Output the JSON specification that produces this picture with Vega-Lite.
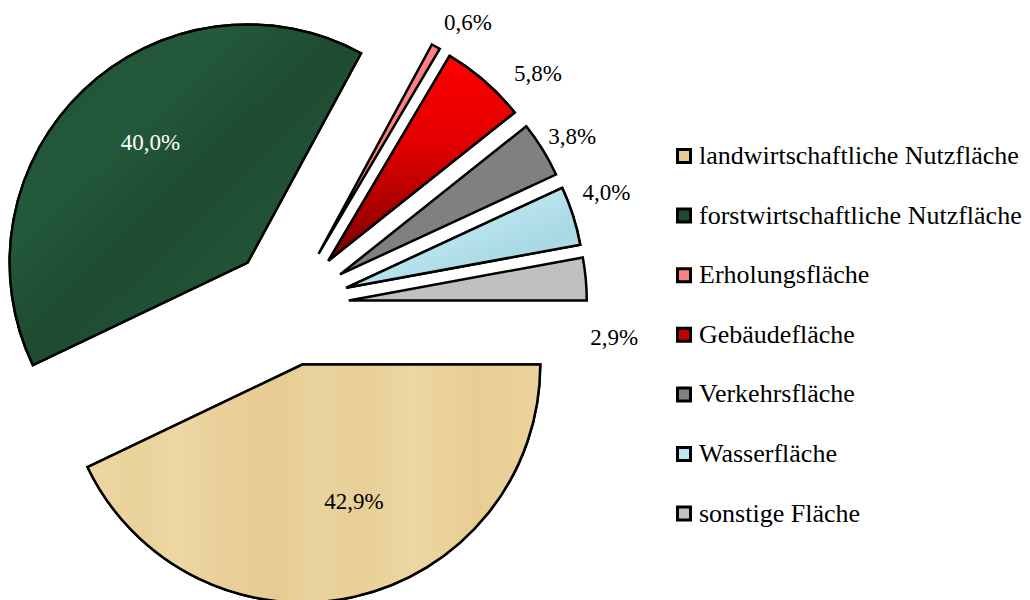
{
  "$schema": "https://vega.github.io/schema/vega-lite/v6.json",
  "width": 578,
  "height": 588,
  "autosize": {"type": "none"},
  "padding": {"left": 0, "top": 12, "right": 452, "bottom": 0},
  "background": "white",
  "config": {"view": {"stroke": null}, "font": "Liberation Serif"},
  "data": {
    "values": [
      {"name": "landwirtschaftliche Nutzfläche", "value": 42.9, "label": "42,9%", "ord": 1},
      {"name": "forstwirtschaftliche Nutzfläche", "value": 40.0, "label": "40,0%", "ord": 2},
      {"name": "Erholungsfläche", "value": 0.6, "label": "0,6%", "ord": 3},
      {"name": "Gebäudefläche", "value": 5.8, "label": "5,8%", "ord": 4},
      {"name": "Verkehrsfläche", "value": 3.8, "label": "3,8%", "ord": 5},
      {"name": "Wasserfläche", "value": 4.0, "label": "4,0%", "ord": 6},
      {"name": "sonstige Fläche", "value": 2.9, "label": "2,9%", "ord": 7}
    ]
  },
  "transform": [
    {"stack": "value", "groupby": [], "sort": [{"field": "ord", "order": "ascending"}], "as": ["v0", "v1"]},
    {"calculate": "(datum.v0 + datum.v1) / 2", "as": "mid"}
  ],
  "layer": [
    {
      "mark": {
        "type": "arc", "radius": 238, "stroke": "black", "strokeWidth": 2.5, "strokeJoin": "miter",
        "xOffset": {"expr": "60*cos(PI*(datum.v0+datum.v1)/100)"},
        "yOffset": {"expr": "60*sin(PI*(datum.v0+datum.v1)/100)"}
      },
      "encoding": {
        "theta": {"field": "v0", "type": "quantitative", "stack": null, "scale": {"domain": [0, 100], "range": [1.5707963, 7.8539816]}},
        "theta2": {"field": "v1"},
        "color": {
          "field": "name", "type": "nominal",
          "sort": ["landwirtschaftliche Nutzfläche", "forstwirtschaftliche Nutzfläche", "Erholungsfläche", "Gebäudefläche", "Verkehrsfläche", "Wasserfläche", "sonstige Fläche"],
          "scale": {
            "domain": ["landwirtschaftliche Nutzfläche", "forstwirtschaftliche Nutzfläche", "Erholungsfläche", "Gebäudefläche", "Verkehrsfläche", "Wasserfläche", "sonstige Fläche"],
            "range": ["#e6cc92", "#1f4a31", "#ff8080", "#c00000", "#808080", "#bfe7f0", "#c0c0c0"]
          },
          "legend": {
            "orient": "none", "legendX": 671, "legendY": 131, "title": null, "padding": 0,
            "labelFont": "Liberation Serif", "labelFontSize": 26, "labelColor": "black", "labelLimit": 400, "labelOffset": 2,
            "symbolType": "square", "symbolSize": 169, "symbolStrokeColor": "black", "symbolStrokeWidth": 3, "symbolOpacity": 1,
            "rowPadding": 33.6
          }
        }
      }
    },
    {
      "transform": [{"filter": "datum.name == 'Gebäudefläche'"}],
      "mark": {
        "type": "arc", "radius": 238, "stroke": "black", "strokeWidth": 2.5, "strokeJoin": "miter",
        "fill": {"gradient": "linear", "x1": 0, "y1": 0, "x2": 0, "y2": 1, "stops": [{"offset": 0, "color": "#ff0000"}, {"offset": 0.45, "color": "#e00000"}, {"offset": 1, "color": "#7a0000"}]},
        "xOffset": {"expr": "60*cos(PI*(datum.v0+datum.v1)/100)"},
        "yOffset": {"expr": "60*sin(PI*(datum.v0+datum.v1)/100)"}
      },
      "encoding": {
        "theta": {"field": "v0", "type": "quantitative", "stack": null},
        "theta2": {"field": "v1"}
      }
    },
    {
      "transform": [{"filter": "datum.name == 'landwirtschaftliche Nutzfläche'"}],
      "mark": {
        "type": "arc", "radius": 238, "stroke": "black", "strokeWidth": 2.5, "strokeJoin": "miter",
        "fill": {"gradient": "linear", "x1": 0, "y1": 0, "x2": 1, "y2": 0, "stops": [
          {"offset": 0, "color": "#ecd6a2"}, {"offset": 0.12, "color": "#e9d19a"}, {"offset": 0.2, "color": "#edd7a4"},
          {"offset": 0.3, "color": "#e9d09a"}, {"offset": 0.42, "color": "#e6cc92"}, {"offset": 0.5, "color": "#ebd39e"},
          {"offset": 0.6, "color": "#e8cf97"}, {"offset": 0.72, "color": "#edd6a2"}, {"offset": 0.85, "color": "#e8ce95"},
          {"offset": 1, "color": "#ebd39c"}]},
        "xOffset": {"expr": "60*cos(PI*(datum.v0+datum.v1)/100)"},
        "yOffset": {"expr": "60*sin(PI*(datum.v0+datum.v1)/100)"}
      },
      "encoding": {
        "theta": {"field": "v0", "type": "quantitative", "stack": null},
        "theta2": {"field": "v1"}
      }
    },
    {
      "transform": [{"filter": "datum.name == 'forstwirtschaftliche Nutzfläche'"}],
      "mark": {
        "type": "arc", "radius": 238, "stroke": "black", "strokeWidth": 2.5, "strokeJoin": "miter",
        "fill": {"gradient": "linear", "x1": 0, "y1": 0, "x2": 1, "y2": 1, "stops": [
          {"offset": 0, "color": "#1f4d33"}, {"offset": 0.3, "color": "#245a3c"}, {"offset": 0.5, "color": "#1d4b31"},
          {"offset": 0.75, "color": "#235639"}, {"offset": 1, "color": "#1c4a30"}]},
        "xOffset": {"expr": "60*cos(PI*(datum.v0+datum.v1)/100)"},
        "yOffset": {"expr": "60*sin(PI*(datum.v0+datum.v1)/100)"}
      },
      "encoding": {
        "theta": {"field": "v0", "type": "quantitative", "stack": null},
        "theta2": {"field": "v1"}
      }
    },
    {
      "transform": [{"filter": "datum.name == 'Wasserfläche'"}],
      "mark": {
        "type": "arc", "radius": 238, "stroke": "black", "strokeWidth": 2.5, "strokeJoin": "miter",
        "fill": {"gradient": "linear", "x1": 0, "y1": 0, "x2": 1, "y2": 1, "stops": [
          {"offset": 0, "color": "#cdeff5"}, {"offset": 0.4, "color": "#bde6ef"}, {"offset": 0.7, "color": "#a8d9e4"}, {"offset": 1, "color": "#c2e9f1"}]},
        "xOffset": {"expr": "60*cos(PI*(datum.v0+datum.v1)/100)"},
        "yOffset": {"expr": "60*sin(PI*(datum.v0+datum.v1)/100)"}
      },
      "encoding": {
        "theta": {"field": "v0", "type": "quantitative", "stack": null},
        "theta2": {"field": "v1"}
      }
    },
    {
      "transform": [{"filter": "datum.name == 'landwirtschaftliche Nutzfläche'"}],
      "mark": {
        "type": "text", "radius": 147, "thetaOffset": -0.136, "fontSize": 23, "font": "Liberation Serif", "color": "black",
        "xOffset": {"expr": "60*cos(PI*(datum.v0+datum.v1)/100)"},
        "yOffset": {"expr": "60*sin(PI*(datum.v0+datum.v1)/100)"}
      },
      "encoding": {"theta": {"field": "mid", "type": "quantitative", "stack": null}, "text": {"field": "label"}}
    },
    {
      "transform": [{"filter": "datum.name == 'forstwirtschaftliche Nutzfläche'"}],
      "mark": {
        "type": "text", "radius": 154, "thetaOffset": 0.077, "fontSize": 23, "font": "Liberation Serif", "color": "white",
        "xOffset": {"expr": "60*cos(PI*(datum.v0+datum.v1)/100)"},
        "yOffset": {"expr": "60*sin(PI*(datum.v0+datum.v1)/100)"}
      },
      "encoding": {"theta": {"field": "mid", "type": "quantitative", "stack": null}, "text": {"field": "label"}}
    },
    {
      "transform": [{"filter": "datum.name == 'Erholungsfläche'"}],
      "mark": {
        "type": "text", "radius": 275, "thetaOffset": 0.059, "fontSize": 23, "font": "Liberation Serif", "color": "black",
        "xOffset": {"expr": "60*cos(PI*(datum.v0+datum.v1)/100)"},
        "yOffset": {"expr": "60*sin(PI*(datum.v0+datum.v1)/100)"}
      },
      "encoding": {"theta": {"field": "mid", "type": "quantitative", "stack": null}, "text": {"field": "label"}}
    },
    {
      "transform": [{"filter": "datum.name == 'Gebäudefläche'"}],
      "mark": {
        "type": "text", "radius": 281, "thetaOffset": 0.126, "fontSize": 23, "font": "Liberation Serif", "color": "black",
        "xOffset": {"expr": "60*cos(PI*(datum.v0+datum.v1)/100)"},
        "yOffset": {"expr": "60*sin(PI*(datum.v0+datum.v1)/100)"}
      },
      "encoding": {"theta": {"field": "mid", "type": "quantitative", "stack": null}, "text": {"field": "label"}}
    },
    {
      "transform": [{"filter": "datum.name == 'Verkehrsfläche'"}],
      "mark": {
        "type": "text", "radius": 270, "thetaOffset": 0.017, "fontSize": 23, "font": "Liberation Serif", "color": "black",
        "xOffset": {"expr": "60*cos(PI*(datum.v0+datum.v1)/100)"},
        "yOffset": {"expr": "60*sin(PI*(datum.v0+datum.v1)/100)"}
      },
      "encoding": {"theta": {"field": "mid", "type": "quantitative", "stack": null}, "text": {"field": "label"}}
    },
    {
      "transform": [{"filter": "datum.name == 'Wasserfläche'"}],
      "mark": {
        "type": "text", "radius": 277, "thetaOffset": -0.042, "fontSize": 23, "font": "Liberation Serif", "color": "black",
        "xOffset": {"expr": "60*cos(PI*(datum.v0+datum.v1)/100)"},
        "yOffset": {"expr": "60*sin(PI*(datum.v0+datum.v1)/100)"}
      },
      "encoding": {"theta": {"field": "mid", "type": "quantitative", "stack": null}, "text": {"field": "label"}}
    },
    {
      "transform": [{"filter": "datum.name == 'sonstige Fläche'"}],
      "mark": {
        "type": "text", "radius": 268, "thetaOffset": 0.23, "fontSize": 23, "font": "Liberation Serif", "color": "black",
        "xOffset": {"expr": "60*cos(PI*(datum.v0+datum.v1)/100)"},
        "yOffset": {"expr": "60*sin(PI*(datum.v0+datum.v1)/100)"}
      },
      "encoding": {"theta": {"field": "mid", "type": "quantitative", "stack": null}, "text": {"field": "label"}}
    }
  ]
}
